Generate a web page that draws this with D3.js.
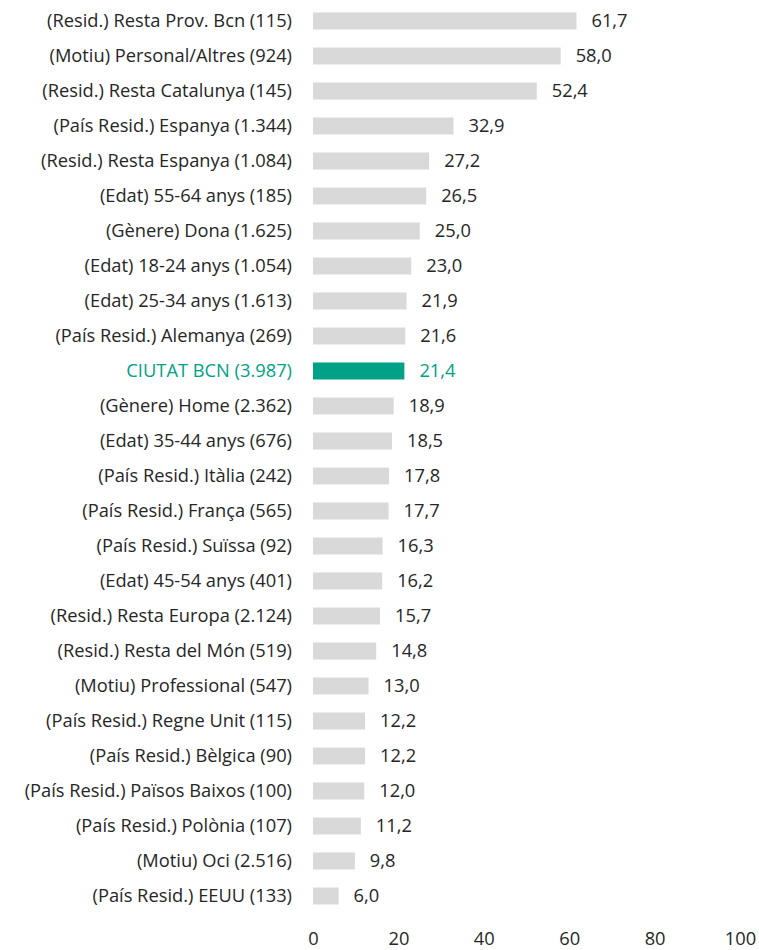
<!DOCTYPE html>
<html>
<head>
<meta charset="utf-8">
<script src="https://cdn.jsdelivr.net/npm/d3@7"></script>
<style>
  body { margin: 0; background: #fff; }
  svg { display: block; font-family: "Open Sans", sans-serif; }
</style>
</head>
<body>
<svg id="chart" width="759" height="950"></svg>
<script>
// Categories (top to bottom) and values
const labels = [
  '(Resid.) Resta Prov. Bcn (115)',
  '(Motiu) Personal/Altres (924)',
  '(Resid.) Resta Catalunya (145)',
  '(País Resid.) Espanya (1.344)',
  '(Resid.) Resta Espanya (1.084)',
  '(Edat) 55-64 anys (185)',
  '(Gènere) Dona (1.625)',
  '(Edat) 18-24 anys (1.054)',
  '(Edat) 25-34 anys  (1.613)',
  '(País Resid.) Alemanya (269)',
  'CIUTAT BCN (3.987)',
  '(Gènere) Home (2.362)',
  '(Edat) 35-44 anys (676)',
  '(País Resid.) Itàlia (242)',
  '(País Resid.) França (565)',
  '(País Resid.) Suïssa (92)',
  '(Edat) 45-54 anys (401)',
  '(Resid.) Resta Europa (2.124)',
  '(Resid.) Resta del Món (519)',
  '(Motiu) Professional (547)',
  '(País Resid.) Regne Unit (115)',
  '(País Resid.) Bèlgica (90)',
  '(País Resid.) Països Baixos (100)',
  '(País Resid.) Polònia (107)',
  '(Motiu) Oci (2.516)',
  '(País Resid.) EEUU (133)'
];
const values = [61.7, 58.0, 52.4, 32.9, 27.2, 26.5, 25.0, 23.0, 21.9, 21.6, 21.4,
  18.9, 18.5, 17.8, 17.7, 16.3, 16.2, 15.7, 14.8, 13.0, 12.2, 12.2, 12.0, 11.2, 9.8, 6.0];
const highlight = 'CIUTAT BCN (3.987)';
const xTicks = [0, 20, 40, 60, 80, 100];

const data = labels.map((l, i) => ({ label: l, value: values[i] }));

const svg = d3.select('#chart');
const GREY = '#d9d9d9', GREEN = '#00a187', TEXT = '#262626';
const FS = 18.3;

const x = d3.scaleLinear().domain([0, 100]).range([313, 740]);
const y = d3.scaleBand().domain(labels).range([3.5, 913.5]).paddingInner(0.5).paddingOuter(0.25);

const rows = svg.append('g').selectAll('g').data(data).join('g');

rows.append('rect')
  .attr('x', x(0))
  .attr('y', d => y(d.label) + y.bandwidth() / 2 - 8.5)
  .attr('width', d => x(d.value) - x(0))
  .attr('height', 17)
  .attr('fill', d => d.label === highlight ? GREEN : GREY);

rows.append('text')
  .attr('x', 292)
  .attr('y', d => y(d.label) + y.bandwidth() / 2)
  .attr('dy', '0.35em')
  .attr('text-anchor', 'end')
  .attr('font-size', FS)
  .attr('fill', d => d.label === highlight ? GREEN : TEXT)
  .text(d => d.label);

rows.append('text')
  .attr('x', d => x(d.value) + 15)
  .attr('y', d => y(d.label) + y.bandwidth() / 2)
  .attr('dy', '0.35em')
  .attr('font-size', FS)
  .attr('fill', d => d.label === highlight ? GREEN : TEXT)
  .text(d => d3.format('.1f')(d.value).replace('.', ','));

// x axis (no line, just labels)
const axis = svg.append('g')
  .attr('transform', 'translate(0,932)')
  .call(d3.axisBottom(x).tickValues(xTicks).tickSize(0).tickPadding(0));
axis.select('.domain').remove();
axis.selectAll('text')
  .attr('font-size', FS)
  .attr('font-family', '"Open Sans", sans-serif')
  .attr('fill', TEXT)
  .attr('dy', '0.71em');
</script>
</body>
</html>
